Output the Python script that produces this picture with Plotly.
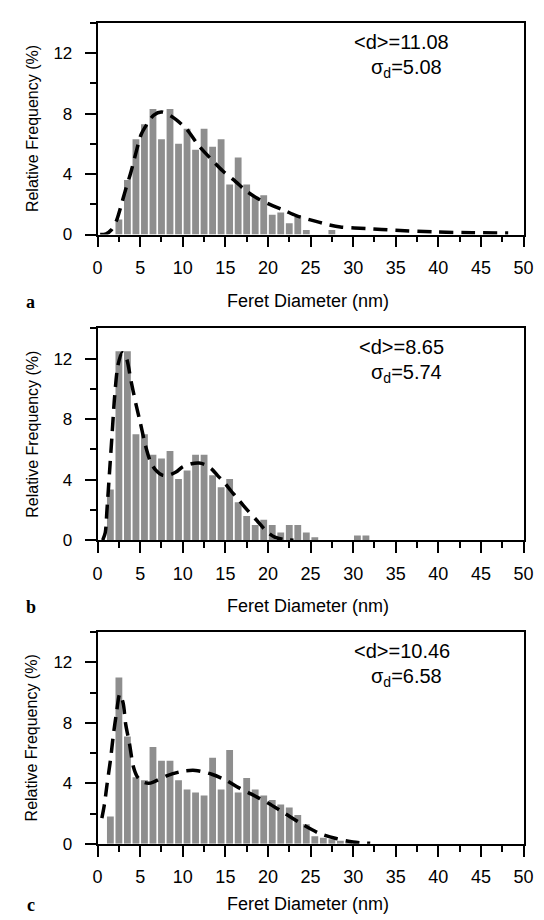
import plotly.graph_objects as go

# ---------------- data ----------------
# Panel a
a_bin_centers = [2.5, 3.5, 4.5, 5.5, 6.5, 7.5, 8.5, 9.5, 10.5, 11.5, 12.5, 13.5, 14.5,
                 15.5, 16.5, 17.5, 18.5, 19.5, 20.5, 21.5, 22.5, 23.5, 24.5, 27.5]
a_freq = [1.0, 3.6, 6.3, 7.3, 8.3, 6.3, 8.3, 6.0, 7.0, 5.6, 7.0, 5.8, 6.3,
          3.3, 5.1, 3.3, 2.5, 2.6, 1.3, 1.45, 0.75, 1.25, 0.3, 0.3]
a_fit_x = [0.3, 1.0, 1.6, 2.2, 2.7, 3.3, 3.9, 4.5, 5.1, 5.8, 6.6, 7.5, 8.7, 10.4, 11.7,
           12.8, 14.7, 16.2, 17.4, 18.9, 20.6, 21.9, 23.3, 25.1, 27.1, 28.5, 31.5, 35.0,
           39.5, 44.0, 48.2]
a_fit_y = [0.0, 0.05, 0.3, 0.9, 1.8, 3.0, 4.1, 5.4, 6.6, 7.3, 7.9, 8.1, 7.8, 7.0, 6.0,
           5.3, 4.2, 3.5, 2.9, 2.35, 1.9, 1.6, 1.25, 0.95, 0.65, 0.5, 0.4, 0.28,
           0.17, 0.12, 0.1]
a_mean_text = "&lt;d&gt;=11.08"
a_sd_text = "σ<sub>d</sub>=5.08"

# Panel b
b_bin_centers = [1.5, 2.5, 3.5, 4.5, 5.5, 6.5, 7.5, 8.5, 9.5, 10.5, 11.5, 12.5, 13.5,
                 14.5, 15.5, 16.5, 17.5, 18.5, 19.5, 20.5, 21.5, 22.5, 23.5, 24.5,
                 25.5, 30.5, 31.5]
b_freq = [3.35, 12.5, 12.5, 7.0, 7.0, 5.65, 5.4, 5.9, 4.05, 4.6, 5.65, 5.65, 4.3,
          3.5, 4.05, 2.5, 1.6, 1.0, 1.35, 1.0, 0.5, 1.0, 1.0, 0.5,
          0.2, 0.3, 0.3]
b_fit_x = [0.6, 0.9, 1.1, 1.4, 1.7, 2.0, 2.4, 2.9, 3.4, 3.9, 4.5, 5.0, 5.6, 6.2, 6.8,
           7.6, 8.4, 9.2, 10.0, 11.0, 11.9, 12.6, 13.4, 14.2, 14.9, 15.6, 16.2, 17.4,
           18.7, 19.8, 20.8, 21.8, 23.0]
b_fit_y = [0.0, 0.5, 2.0, 4.5, 7.0, 9.5, 11.6, 12.4, 12.0, 10.6, 9.0, 7.8, 6.3, 5.2, 4.65,
           4.3, 4.3, 4.5, 4.85, 5.05, 5.1, 5.0, 4.7, 4.2, 3.8, 3.3, 2.9, 2.1,
           1.3, 0.6, 0.2, 0.05, 0.0]
b_mean_text = "&lt;d&gt;=8.65"
b_sd_text = "σ<sub>d</sub>=5.74"

# Panel c
c_bin_centers = [1.5, 2.5, 3.5, 4.5, 5.5, 6.5, 7.5, 8.5, 9.5, 10.5, 11.5, 12.5, 13.5,
                 14.5, 15.5, 16.5, 17.5, 18.5, 19.5, 20.5, 21.5, 22.5, 23.5, 24.5,
                 25.5, 26.5, 27.5, 28.5, 29.5]
c_freq = [1.8, 11.0, 7.1, 4.4, 4.2, 6.4, 5.5, 5.5, 4.2, 3.6, 3.4, 3.2, 5.7,
          3.6, 6.2, 3.4, 4.35, 3.6, 3.2, 2.9, 2.6, 2.4, 1.9, 1.3,
          0.5, 0.4, 0.3, 0.2, 0.1]
c_fit_x = [0.5, 0.8, 1.1, 1.5, 1.85, 2.2, 2.6, 3.0, 3.3, 3.75, 4.2, 4.7, 5.3, 6.0, 6.6,
           8.1, 10.0, 11.5, 13.4, 15.1, 16.6, 18.0, 20.0, 22.0, 24.0, 26.0, 28.0, 30.0, 32.0]
c_fit_y = [1.7, 2.6, 3.9, 5.5, 7.2, 8.6, 9.9, 9.3, 7.9, 6.6, 5.1, 4.4, 4.1, 4.0, 4.1,
           4.5, 4.8, 4.85, 4.6, 4.2, 3.7, 3.3, 2.7, 2.0, 1.3, 0.7, 0.35, 0.12, 0.03]
c_mean_text = "&lt;d&gt;=10.46"
c_sd_text = "σ<sub>d</sub>=6.58"

panel_letters = ["a", "b", "c"]
x_tick_vals = [0, 5, 10, 15, 20, 25, 30, 35, 40, 45, 50]
y_tick_vals = [0, 4, 8, 12]
x_title = "Feret Diameter (nm)"
y_title = "Relative Frequency (%)"

# ---------------- layout helpers ----------------
W, H = 544, 920
X0, X1 = 87, 525          # plot area left/right in px
TOPS = [15, 324, 631]     # plot area tops in px
PH = 214                  # plot area height in px
TITLE_OFFS = [67, 67, 61]  # x-title distance below each x axis, px


def fx(x):
    return x / W


def fy(y):
    return 1 - y / H


FONT = "Liberation Sans, Arial, sans-serif"
BAR_COLOR = "#8e8e8e"

fig = go.Figure()

panels = [
    (a_bin_centers, a_freq, a_fit_x, a_fit_y, a_mean_text, a_sd_text),
    (b_bin_centers, b_freq, b_fit_x, b_fit_y, b_mean_text, b_sd_text),
    (c_bin_centers, c_freq, c_fit_x, c_fit_y, c_mean_text, c_sd_text),
]

layout = dict(
    width=W, height=H,
    margin=dict(l=0, r=0, t=0, b=0),
    paper_bgcolor="white", plot_bgcolor="white",
    showlegend=False,
    font=dict(family=FONT, color="black"),
)
annotations = []

for i, (bx, by, fxs, fys, mtxt, stxt) in enumerate(panels):
    n = "" if i == 0 else str(i + 1)
    xa, ya = "x" + n, "y" + n
    fig.add_trace(go.Bar(x=bx, y=by, width=0.8,
                         marker=dict(color=BAR_COLOR, line=dict(width=0)),
                         xaxis=xa, yaxis=ya))
    fig.add_trace(go.Scatter(x=fxs, y=fys, mode="lines",
                             line=dict(color="black", width=3.5, dash="14px,8px",
                                       shape="spline", smoothing=0.8),
                             xaxis=xa, yaxis=ya))
    top = TOPS[i]
    bot = top + PH
    layout["xaxis" + n] = dict(
        domain=[fx(X0), fx(X1)], range=[0, 50], anchor=ya,
        tickmode="array", tickvals=x_tick_vals,
        ticks="outside", ticklen=11, tickwidth=1.6, tickcolor="black",
        ticklabelstandoff=5,
        minor=dict(dtick=2.5, tick0=0, ticks="outside", ticklen=6, tickwidth=1.6,
                   tickcolor="black"),
        showline=True, linecolor="black", linewidth=1.8, mirror=True,
        showgrid=False, zeroline=False,
        tickfont=dict(size=18, family=FONT, color="black"),
        fixedrange=True,
    )
    layout["yaxis" + n] = dict(
        domain=[fy(bot), fy(top)], range=[0, 14], anchor=xa,
        tickmode="array", tickvals=y_tick_vals,
        ticks="outside", ticklen=11, tickwidth=1.6, tickcolor="black",
        ticklabelstandoff=9,
        minor=dict(dtick=2, tick0=0, ticks="outside", ticklen=6, tickwidth=1.6,
                   tickcolor="black"),
        showline=True, linecolor="black", linewidth=1.8, mirror=True,
        showgrid=False, zeroline=False,
        tickfont=dict(size=17, family=FONT, color="black"),
        fixedrange=True,
    )
    # stats text
    annotations.append(dict(x=fx(400), y=fy(top + 19), xref="paper", yref="paper",
                            text=mtxt, showarrow=False, xanchor="center", yanchor="middle",
                            font=dict(size=20, family=FONT, color="black")))
    annotations.append(dict(x=fx(405), y=fy(top + 46), xref="paper", yref="paper",
                            text=stxt, showarrow=False, xanchor="center", yanchor="middle",
                            font=dict(size=20, family=FONT, color="black")))
    # x title
    annotations.append(dict(x=fx(303), y=fy(bot + TITLE_OFFS[i]), xref="paper", yref="paper",
                            text=x_title, showarrow=False, xanchor="center", yanchor="middle",
                            font=dict(size=18, family=FONT, color="black")))
    # y title
    annotations.append(dict(x=fx(20), y=fy(top + PH / 2), xref="paper", yref="paper",
                            text=y_title, showarrow=False, textangle=-90,
                            xanchor="center", yanchor="middle",
                            font=dict(size=16, family=FONT, color="black")))
    # panel letter
    annotations.append(dict(x=fx(18), y=fy(bot + TITLE_OFFS[i] + 1), xref="paper", yref="paper",
                            text="<b>" + panel_letters[i] + "</b>", showarrow=False,
                            xanchor="center", yanchor="middle",
                            font=dict(size=18, family="Liberation Serif, Times New Roman, serif",
                                      color="black")))

layout["annotations"] = annotations
fig.update_layout(**layout)

fig.write_html("out.html")
